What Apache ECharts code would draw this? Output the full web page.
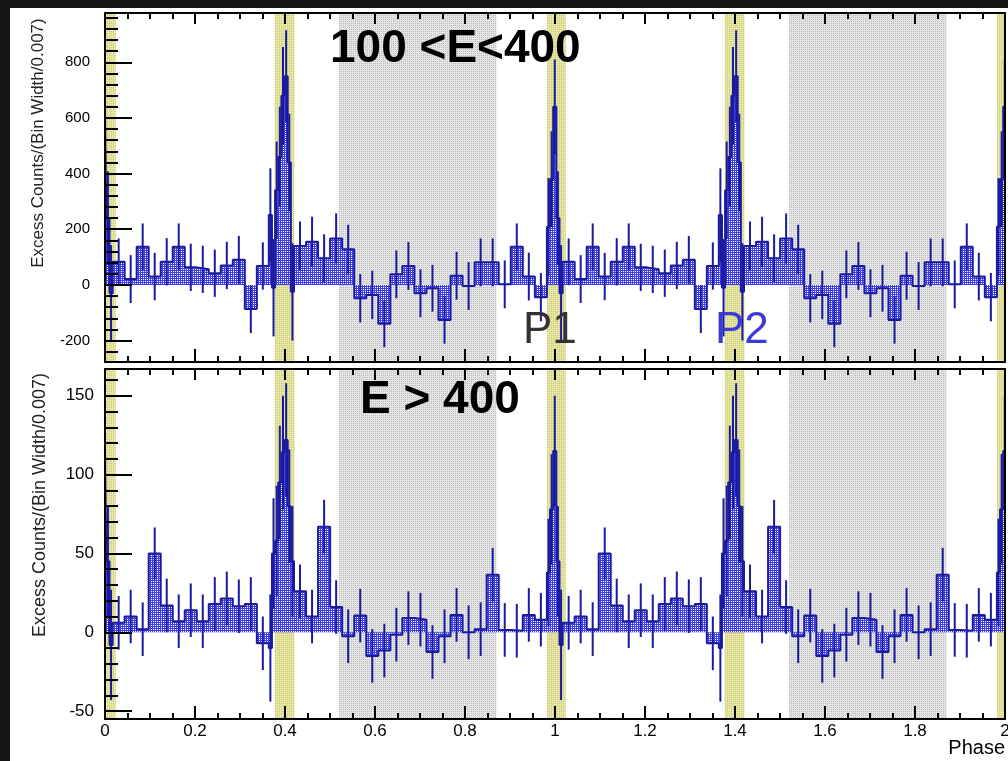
<!DOCTYPE html>
<html>
<head>
<meta charset="utf-8">
<script src="https://cdn.jsdelivr.net/npm/echarts@6/dist/echarts.min.js"></script>
<style>
  html, body { margin: 0; padding: 0; background: #161616; }
  #chart { width: 1008px; height: 761px; }
</style>
</head>
<body>
<div id="chart"></div>
<script>
// bin edges of one phase period (-0.018 .. 0.982); the histogram repeats over 0..2
var binEdges = [-0.018, -0.011, -0.004, 0.003, 0.010, 0.017,
  0.0437, 0.0704, 0.0971, 0.1238, 0.1505, 0.1772, 0.2039, 0.2306, 0.2573, 0.2840, 0.3107, 0.3374, 0.364,
  0.371, 0.378, 0.385, 0.392, 0.399, 0.406, 0.413, 0.420,
  0.4468, 0.4735, 0.5003, 0.5270, 0.5538, 0.5806, 0.6073, 0.6341, 0.6608, 0.6876, 0.7144,
  0.7411, 0.7679, 0.7946, 0.8214, 0.8482, 0.8749, 0.9017, 0.9284, 0.9552, 0.982];

// 100 < E < 400
var topCounts = [209, 380, 640, 240, -30,
  83, 21, 137, 30, 83, 137, 63, 56, 42, 70, 90, -87, 68,
  251, -10, 340, 460, 680, 750, 440, -25,
  140, 155, 96, 167, 128, -48, -36, -140, 38, 68, -30, -12, -126, 33, -4, 81, 81, 2, 137, 30, -44];
var topErrors = [175, 172, 170, 168, 173,
  84, 86, 84, 85, 85, 84, 85, 85, 85, 85, 86, 86, 85,
  168, 175, 175, 180, 175, 165, 175, 175,
  88, 90, 86, 90, 88, 87, 87, 84, 86, 86, 86, 84, 85, 86, 86, 86, 86, 86, 84, 86, 87];

// E > 400
var lowCounts = [38, 78, 115, 45, -8,
  6, 10, 2, 50, 17, 7, 14, 7, 18, 21.5, 16.5, 18, -7,
  -10, 50, 58, 95, 114, 122, 80, 45,
  26, 10, 67, 16, -2.5, 10.6, -15, -11.6, -1.5, 9, 8, -12.5, -2.5, 11, 0, 2, 36.5, 1.5, 1, 11, 8];
var lowErrors = [34, 35, 35, 35, 35,
  17, 17, 17, 16.5, 17, 17, 17, 17, 17, 17, 17, 17, 17,
  34, 35, 35, 36, 36, 36, 36, 35,
  17, 17, 17, 17, 17, 17, 17, 17, 17, 17, 17, 17, 17, 17, 17, 17, 17, 17, 17, 17, 17];

// phase regions (one period)
var p1Band = [-0.018, 0.024];
var p2Band = [0.377, 0.421];
var offBand = [0.52, 0.87];

var topTicks = [-200, 0, 200, 400, 600, 800];
var lowTicks = [-50, 0, 50, 100, 150];

var font = 'Liberation Sans, Arial, sans-serif';
var lineColor = '#1a1a9e';

// 2x2 tile: main colour on three pixels, dot colour on one
function pattern(main, dot) {
  var cv = document.createElement('canvas');
  cv.width = 2; cv.height = 2;
  var ctx = cv.getContext('2d');
  ctx.fillStyle = main; ctx.fillRect(0, 0, 2, 2);
  ctx.fillStyle = dot; ctx.fillRect(1, 1, 1, 1);
  return { image: cv, repeat: 'repeat' };
}
var blueFill = pattern('#3f3ff0', '#ffffff');
var grayFill = pattern('#e4e4e4', '#bcbcbc');
var yellowFill = pattern('#e8e896', '#c4c4a4');

function histBins(vals, errs) {
  var out = [];
  for (var k = -1; k <= 2; k++) {
    for (var i = 0; i < vals.length; i++) {
      var lo = binEdges[i] + k, hi = binEdges[i + 1] + k;
      if (hi <= 0 || lo >= 2) continue;
      out.push({ lo: Math.max(lo, 0), hi: Math.min(hi, 2), c: (lo + hi) / 2, v: vals[i], e: errs[i] });
    }
  }
  return out;
}

function stepPoints(bins) {
  var pts = bins.map(function (b) { return [b.lo, b.v]; });
  var last = bins[bins.length - 1];
  pts.push([last.hi, last.v]);
  return pts;
}

function errPoints(bins) {
  return bins.filter(function (b) { return b.c >= 0 && b.c <= 2; })
    .map(function (b) { return [b.c, b.v, b.e]; });
}

function bandAreas() {
  var out = [];
  var list = [[p1Band, yellowFill], [p2Band, yellowFill], [offBand, grayFill]];
  list.forEach(function (item) {
    for (var k = -1; k <= 2; k++) {
      var lo = Math.max(item[0][0] + k, 0), hi = Math.min(item[0][1] + k, 2);
      if (hi <= lo) continue;
      out.push([{ xAxis: lo, itemStyle: { color: item[1] } }, { xAxis: hi }]);
    }
  });
  return out;
}

function minorTicks(min, max, step, majors) {
  var out = [];
  for (var v = Math.ceil(min / step) * step; v <= max; v += step) {
    var r = Math.round(v * 1000) / 1000;
    if (majors.indexOf(r) < 0) out.push(r);
  }
  return out;
}

function errorRender(params, api) {
  var c = api.value(0), v = api.value(1), e = api.value(2);
  var a = api.coord([c, v + e]), b = api.coord([c, v - e]);
  return {
    type: 'line',
    shape: { x1: a[0], y1: a[1], x2: b[0], y2: b[1] },
    style: { stroke: lineColor, lineWidth: 2 }
  };
}

var topBins = histBins(topCounts, topErrors);
var lowBins = histBins(lowCounts, lowErrors);

var black = { color: '#000', width: 2 };

function xAxes(g, showLabels) {
  return [{
    type: 'value', gridIndex: g, min: 0, max: 2, interval: 0.2, position: 'bottom', z: 10,
    axisLine: { show: true, onZero: false, lineStyle: black },
    axisTick: { inside: true, length: 13, lineStyle: black },
    minorTick: { show: true, splitNumber: 4, length: 6, lineStyle: black },
    axisLabel: { show: showLabels, fontSize: 17, fontFamily: font, color: '#000', margin: 4 },
    splitLine: { show: false }
  }, {
    type: 'value', gridIndex: g, min: 0, max: 2, interval: 0.2, position: 'top', z: 10,
    axisLine: { show: true, onZero: false, lineStyle: black },
    axisTick: { inside: true, length: 11, lineStyle: black },
    minorTick: { show: true, splitNumber: 4, length: 6, lineStyle: black },
    axisLabel: { show: false },
    splitLine: { show: false }
  }];
}

function yAxes(g, min, max, majors, minorStep, fontSize, margin) {
  return [{
    type: 'value', gridIndex: g, min: min, max: max, position: 'left', z: 10,
    axisLine: { show: true, onZero: false, lineStyle: black },
    axisTick: { inside: true, length: 27, lineStyle: black, customValues: majors },
    axisLabel: { customValues: majors, fontSize: fontSize, fontFamily: font, color: '#000', margin: margin },
    splitLine: { show: false }
  }, {
    type: 'value', gridIndex: g, min: min, max: max, position: 'left', z: 10,
    axisLine: { show: false },
    axisTick: { inside: true, length: 13, lineStyle: black, customValues: minorTicks(min, max, minorStep, majors) },
    axisLabel: { show: false },
    splitLine: { show: false }
  }, {
    type: 'value', gridIndex: g, min: min, max: max, position: 'right', z: 10,
    axisLine: { show: true, onZero: false, lineStyle: black },
    axisTick: { show: false },
    axisLabel: { show: false },
    splitLine: { show: false }
  }];
}

function panelSeries(bins, xi, yi) {
  return [{
    type: 'line', xAxisIndex: xi, yAxisIndex: yi,
    data: stepPoints(bins), step: 'end', symbol: 'none', z: 3,
    lineStyle: { color: lineColor, width: 2 },
    areaStyle: { color: blueFill, opacity: 1 },
    markArea: { silent: true, z: 1, label: { show: false }, data: bandAreas() }
  }, {
    type: 'custom', xAxisIndex: xi, yAxisIndex: yi, z: 4,
    data: errPoints(bins), encode: { x: 0, y: 1 },
    renderItem: errorRender
  }];
}

var chart = echarts.init(document.getElementById('chart'));

var option = {
  animation: false,
  backgroundColor: '#161616',
  grid: [
    { left: 105, top: 13, width: 900, height: 349, show: true, backgroundColor: '#fff', borderWidth: 0, outerBoundsMode: 'none', containLabel: false },
    { left: 105, top: 369, width: 900, height: 350, show: true, backgroundColor: '#fff', borderWidth: 0, outerBoundsMode: 'none', containLabel: false }
  ],
  xAxis: xAxes(0, false).concat(xAxes(1, true)),
  yAxis: yAxes(0, -277, 977, topTicks, 40, 15, 15).concat(yAxes(1, -55, 167, lowTicks, 10, 17, 11)),
  graphic: [
    { type: 'rect', z: -10, silent: true, shape: { x: 10, y: 8, width: 998, height: 753 }, style: { fill: '#fff' } },
    { type: 'text', z: 100, style: { text: '100 <E<400', x: 330, y: 49, font: 'bold 46px ' + font, fill: '#000', textAlign: 'left', textVerticalAlign: 'middle' } },
    { type: 'text', z: 100, style: { text: 'E > 400', x: 360, y: 400, font: 'bold 46px ' + font, fill: '#000', textAlign: 'left', textVerticalAlign: 'middle' } },
    { type: 'text', z: 100, style: { text: 'P1', x: 523, y: 331, font: '44px ' + font, fill: '#333', textAlign: 'left', textVerticalAlign: 'middle' } },
    { type: 'text', z: 100, style: { text: 'P2', x: 715, y: 331, font: '44px ' + font, fill: '#3b3bd6', textAlign: 'left', textVerticalAlign: 'middle' } },
    { type: 'text', z: 100, x: 38, y: 143, rotation: Math.PI / 2, style: { text: 'Excess Counts/(Bin Width/0.007)', x: 0, y: 0, font: '17px ' + font, fill: '#222', textAlign: 'center', textVerticalAlign: 'middle' } },
    { type: 'text', z: 100, x: 40, y: 505, rotation: Math.PI / 2, style: { text: 'Excess Counts/(Bin Width/0.007)', x: 0, y: 0, font: '18px ' + font, fill: '#222', textAlign: 'center', textVerticalAlign: 'middle' } },
    { type: 'text', z: 100, style: { text: 'Phase', x: 1005, y: 748, font: '20px ' + font, fill: '#000', textAlign: 'right', textVerticalAlign: 'middle' } }
  ],
  series: panelSeries(topBins, 0, 0).concat(panelSeries(lowBins, 2, 3))
};

chart.setOption(option);
</script>
</body>
</html>
